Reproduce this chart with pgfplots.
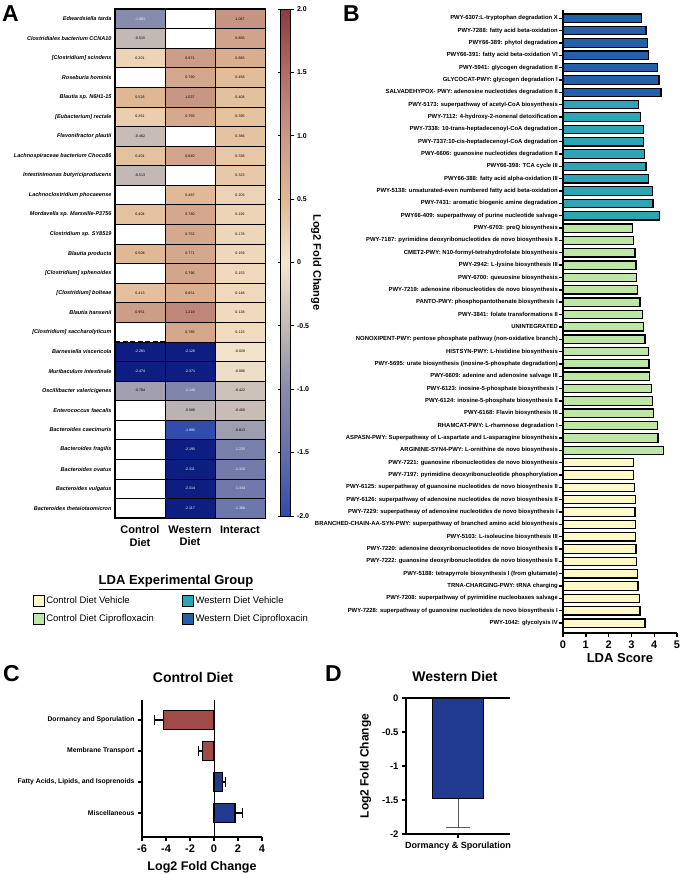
\documentclass[border=0pt]{standalone}
\usepackage{fontspec}
\setmainfont{Liberation Sans}
\usepackage{pgfplots}
\usepackage{pgfplotstable}
\pgfplotsset{compat=1.18}

\definecolor{cdv}{RGB}{253,250,200}
\definecolor{cdc}{RGB}{190,230,165}
\definecolor{wdv}{RGB}{45,165,180}
\definecolor{wdc}{RGB}{35,95,170}
\definecolor{cred}{RGB}{160,74,74}
\definecolor{cblue}{RGB}{32,58,143}
\definecolor{hnavy}{RGB}{14,30,128}

\pgfplotsset{
 colormap={cbar}{rgb255=(48,76,172) rgb255=(100,112,168) rgb255=(136,140,172) rgb255=(196,186,180) rgb255=(246,230,204) rgb255=(224,184,148) rgb255=(202,154,134) rgb255=(176,110,104) rgb255=(140,58,62)},
}

\pgfdeclareplotmark{cell}{\pgfpathrectangle{\pgfqpoint{-25pt}{-9.79pt}}{\pgfqpoint{50pt}{19.58pt}}\pgfusepathqfillstroke}

% heatmap cells: x = column (0 Control Diet, 1 Western Diet, 2 Interact), y = row (0 = top)
\pgfplotstableread{
x y v
2 0 1.067
0 1 -0.515
2 1 0.856
0 2 0.201
1 2 0.971
2 2 0.665
1 3 0.790
2 3 0.458
0 4 0.526
1 4 1.037
2 4 0.408
0 5 0.261
1 5 0.755
2 5 0.395
0 6 -0.462
2 6 0.386
0 7 0.401
1 7 0.840
2 7 0.336
0 8 -0.513
2 8 0.323
1 9 0.487
2 9 0.203
0 10 0.404
1 10 0.780
2 10 0.192
1 11 0.752
2 11 0.178
0 12 0.508
1 12 0.771
2 12 0.159
1 13 0.796
2 13 0.153
0 14 0.413
1 14 0.651
2 14 0.148
0 15 0.951
1 15 1.219
2 15 0.128
1 16 0.785
2 16 0.123
2 17 -0.028
2 18 -0.086
0 19 -0.784
2 19 -0.422
1 20 -0.586
2 20 -0.460
2 21 -0.813
}\tlight
\pgfplotstableread{
x y v
0 0 -1.001
1 19 -1.140
1 21 -1.995
2 22 -1.235
2 23 -1.320
2 24 -1.334
2 25 -1.368
}\tdark
\pgfplotstableread{
x y v
0 17 -2.281
1 17 -2.126
0 18 -2.474
1 18 -2.371
1 22 -2.195
1 23 -2.311
1 24 -2.314
1 25 -2.117
}\tnavy

\begin{document}
\begin{tikzpicture}
\useasboundingbox (0,0) rectangle (680pt,875pt);

% ---------------- Panel A heatmap ----------------
\begin{axis}[
 at={(115pt,357pt)}, anchor=south west, scale only axis, width=150pt, height=509pt,
 xmin=-0.5, xmax=2.5, ymin=-0.5, ymax=25.5, y dir=reverse,
 colormap name=cbar, point meta min=-2, point meta max=2,
 xtick={0,1,2}, xticklabels={Control\\Diet, Western\\Diet, Interact},
 xticklabel style={align=center, font=\fontsize{11}{12.5}\selectfont\bfseries, yshift=-4pt},
 ytick={0,...,25},
 yticklabels={{Edwardsiella tarda},{Clostridiales bacterium CCNA10},{[Clostridium] scindens},{Roseburia hominis},{Blautia sp. N6H1-15},{[Eubacterium] rectale},{Flavonifractor plautii},{Lachnospiraceae bacterium Choco86},{Intestinimonas butyriciproducens},{Lachnoclostridium phocaeense},{Mordavella sp. Marseille-P3756},{Clostridium sp. SY8519},{Blautia producta},{[Clostridium] sphenoides},{[Clostridium] bolteae},{Blautia hansenii},{[Clostridium] saccharolyticum},{Barnesiella viscericola},{Muribaculum intestinale},{Oscillibacter valericigenes},{Enterococcus faecalis},{Bacteroides caecimuris},{Bacteroides fragilis},{Bacteroides ovatus},{Bacteroides vulgatus},{Bacteroides thetaiotaomicron}},
 yticklabel style={font=\fontsize{5.5}{6}\selectfont\bfseries\itshape},
 major tick length=0pt,
 extra x ticks={0.5,1.5}, extra x tick labels={},
 extra y ticks={0.5,1.5,...,24.5}, extra y tick labels={},
 extra tick style={grid=major, major grid style={black, line width=0.6pt}},
 axis line style={line width=1.8pt},
 clip=false,
]
% coloured cells
\addplot[scatter, only marks, mark=cell, scatter src=explicit,
 scatter/use mapped color={draw=black, fill=mapped color}, mark options={line width=0.6pt}]
 table[meta=v] {\tlight};
\addplot[scatter, only marks, mark=cell, scatter src=explicit,
 scatter/use mapped color={draw=black, fill=mapped color}, mark options={line width=0.6pt}]
 table[meta=v] {\tdark};
% values below the colour range (< -2.0) are shown in dark navy
\addplot[only marks, mark=cell, mark options={draw=black, fill=hnavy, line width=0.6pt}]
 table {\tnavy};
% cell values as text
\addplot[only marks, mark=none, point meta=explicit,
 nodes near coords={\pgfmathprintnumber[fixed, fixed zerofill, precision=3, assume math mode=true]{\pgfplotspointmeta}},
 nodes near coords align={center},
 every node near coord/.append style={font=\fontsize{3.6}{4}\selectfont, text=black}]
 table[meta=v] {\tlight};
\addplot[only marks, mark=none, point meta=explicit,
 nodes near coords={\pgfmathprintnumber[fixed, fixed zerofill, precision=3, assume math mode=true]{\pgfplotspointmeta}},
 nodes near coords align={center},
 every node near coord/.append style={font=\fontsize{3.6}{4}\selectfont, text=white}]
 table[meta=v] {\tdark};
\addplot[only marks, mark=none, point meta=explicit,
 nodes near coords={\pgfmathprintnumber[fixed, fixed zerofill, precision=3, assume math mode=true]{\pgfplotspointmeta}},
 nodes near coords align={center},
 every node near coord/.append style={font=\fontsize{3.6}{4}\selectfont, text=white}]
 table[meta=v] {\tnavy};
\addplot[black, line width=2pt, dash pattern=on 5pt off 2.5pt] coordinates {(-0.5,16.5) (2.5,16.5)};
\end{axis}

% colorbar
\begin{axis}[
 at={(115pt,357pt)}, anchor=south west, scale only axis, width=150pt, height=509pt,
 hide axis, xmin=0, xmax=1, ymin=0, ymax=1,
 colormap name=cbar, point meta min=-2, point meta max=2,
 colorbar,
 colorbar style={at={(parent axis.north east)}, anchor=north west, xshift=7pt,
   scale only axis, width=10pt, height=507pt,
   ytick={-2,-1.5,-1,-0.5,0,0.5,1,1.5,2},
   yticklabels={-2.0,-1.5,-1.0,-0.5,0,0.5,1.0,1.5,2.0},
   yticklabel style={font=\fontsize{7}{8}\selectfont\bfseries},
   ylabel={Log2 Fold Change},
   ylabel style={rotate=180, font=\fontsize{11}{12}\selectfont\bfseries, yshift=-5pt},
   axis line style={line width=0.8pt},
   major tick length=3pt, tick align=outside, tick style={black, line width=0.8pt}},
]
\addplot[draw=none] coordinates {(0.5,0.5)};
\end{axis}

% ---------------- Panel B ----------------
\begin{axis}[
 at={(563pt,242pt)}, anchor=south west, scale only axis, width=114pt, height=623pt,
 xbar, bar shift=0pt, bar width=8.4pt,
 xmin=0, xmax=5, ymin=0.2, ymax=50.67,
 axis x line*=bottom, axis y line*=left, axis line style={line width=1.6pt},
 tick align=outside, major tick length=4pt, tick style={line width=1.4pt, black},
 xtick={0,1,2,3,4,5}, ytick={1,...,50},
 yticklabels={{PWY-1042: glycolysis IV},{PWY-7228: superpathway of guanosine nucleotides de novo biosynthesis I},{PWY-7208: superpathway of pyrimidine nucleobases salvage},{TRNA-CHARGING-PWY: tRNA charging},{PWY-5188: tetrapyrrole biosynthesis I (from glutamate)},{PWY-7222: guanosine deoxyribonucleotides de novo biosynthesis II},{PWY-7220: adenosine deoxyribonucleotides de novo biosynthesis II},{PWY-5103: L-isoleucine biosynthesis III},{BRANCHED-CHAIN-AA-SYN-PWY: superpathway of branched amino acid biosynthesis},{PWY-7229: superpathway of adenosine nucleotides de novo biosynthesis I},{PWY-6126: superpathway of adenosine nucleotides de novo biosynthesis II},{PWY-6125: superpathway of guanosine nucleotides de novo biosynthesis II},{PWY-7197: pyrimidine deoxyribonucleotide phosphorylation},{PWY-7221: guanosine ribonucleotides de novo biosynthesis},{ARGININE-SYN4-PWY: L-ornithine de novo biosynthesis},{ASPASN-PWY: Superpathway of L-aspartate and L-asparagine biosynthesis},{RHAMCAT-PWY: L-rhamnose degradation I},{PWY-6168: Flavin biosynthesis III},{PWY-6124: inosine-5-phosphate biosynthesis II},{PWY-6123: inosine-5-phosphate biosynthesis I},{PWY-6609: adenine and adenosine salvage III},{PWY-5695: urate biosynthesis (inosine-5-phosphate degradation)},{HISTSYN-PWY: L-histidine biosynthesis},{NONOXIPENT-PWY: pentose phosphate pathway (non-oxidative branch)},{UNINTEGRATED},{PWY-3841: folate transformations II},{PANTO-PWY: phosphopantothenate biosynthesis I},{PWY-7219: adenosine ribonucleotides de novo biosynthesis},{PWY-6700: queuosine biosynthesis},{PWY-2942: L-lysine biosynthesis III},{CMET2-PWY: N10-formyl-tetrahydrofolate biosynthesis},{PWY-7187: pyrimidine deoxyribonucleotides de novo biosynthesis II},{PWY-6703: preQ biosynthesis},{PWY66-409: superpathway of purine nucleotide salvage},{PWY-7431: aromatic biogenic amine degradation},{PWY-5138: unsaturated-even numbered fatty acid beta-oxidation},{PWY66-388: fatty acid alpha-oxidation III},{PWY66-398: TCA cycle III},{PWY-6606: guanosine nucleotides degradation II},{PWY-7337:10-cis-heptadecenoyl-CoA degradation},{PWY-7338: 10-trans-heptadecenoyl-CoA degradation},{PWY-7112: 4-hydroxy-2-nonenal detoxification},{PWY-5173: superpathway of acetyl-CoA biosynthesis},{SALVADEHYPOX- PWY: adenosine nucleotides degradation II},{GLYCOCAT-PWY: glycogen degradation I},{PWY-5941: glycogen degradation II},{PWY66-391: fatty acid beta-oxidation VI},{PWY66-389: phytol degradation},{PWY-7288: fatty acid beta-oxidation},{PWY-6307:L-tryptophan degradation X}},
 yticklabel style={font=\fontsize{5.9}{6}\selectfont\bfseries, inner sep=1pt},
 xticklabel style={font=\fontsize{11}{12}\selectfont\bfseries},
 xlabel={LDA Score}, xlabel style={font=\fontsize{13}{14}\selectfont\bfseries, yshift=2pt},
 /pgf/number format/assume math mode=true,
 legend columns=2,
 legend cell align=left,
 legend style={at={(-4.68,0.0658)}, anchor=north west, draw=none, fill=none,
   font=\fontsize{9.5}{11}\selectfont, row sep=6pt,
   /tikz/every even column/.append style={column sep=26pt}},
 legend image code/.code={\draw[#1, line width=0.6pt, draw=black] (0pt,-5.5pt) rectangle (11pt,5.5pt);},
]
\addplot[fill=cdv, draw=black, line width=1.2pt] coordinates {
(3.09,14) (3.09,13) (3.13,12) (3.17,11) (3.16,10) (3.19,9) (3.17,8) (3.20,7) (3.23,6) (3.25,5) (3.29,4) (3.36,3) (3.38,2) (3.60,1)};
\addlegendentry{Control Diet Vehicle}
\addplot[fill=wdv, draw=black, line width=1.2pt] coordinates {
(3.30,43) (3.41,42) (3.52,41) (3.52,40) (3.57,39) (3.64,38) (3.74,37) (3.92,36) (3.95,35) (4.23,34)};
\addlegendentry{Western Diet Vehicle}
\addplot[fill=cdc, draw=black, line width=1.2pt] coordinates {
(3.04,33) (3.10,32) (3.16,31) (3.20,30) (3.23,29) (3.27,28) (3.38,27) (3.49,26) (3.52,25) (3.60,24) (3.74,23) (3.77,22) (3.79,21) (3.89,20) (3.93,19) (3.96,18) (4.15,17) (4.17,16) (4.42,15)};
\addlegendentry{Control Diet Ciprofloxacin}
\addplot[fill=wdc, draw=black, line width=1.2pt] coordinates {
(3.45,50) (3.64,49) (3.71,48) (3.74,47) (4.14,46) (4.21,45) (4.30,44)};
\addlegendentry{Western Diet Ciprofloxacin}
\end{axis}

% ---------------- Panel C ----------------
\begin{axis}[
 at={(142pt,38pt)}, anchor=south west, scale only axis, width=120pt, height=137pt,
 xbar, bar shift=0pt, bar width=19pt,
 xmin=-6, xmax=4, ymin=0.226, ymax=4.645,
 axis x line*=bottom, axis y line*=left, axis line style={line width=1.4pt},
 tick align=outside, major tick length=4pt, tick style={line width=1.2pt, black},
 xtick={-6,-4,-2,0,2,4}, ytick={1,2,3,4},
 yticklabels={Miscellaneous,{Fatty Acids, Lipids, and Isoprenoids},Membrane Transport,Dormancy and Sporulation},
 yticklabel style={font=\fontsize{6.8}{7}\selectfont\bfseries},
 xticklabel style={font=\fontsize{11}{12}\selectfont\bfseries},
 xlabel={Log2 Fold Change}, xlabel style={font=\fontsize{12.5}{14}\selectfont\bfseries, yshift=2pt},
 extra x ticks={0}, extra x tick labels={},
 extra x tick style={grid=major, major grid style={black, line width=0.8pt}, major tick length=0pt},
 /pgf/number format/assume math mode=true,
]
\addplot[fill=cred, draw=black, line width=1.2pt,
 error bars/.cd, x dir=minus, x explicit,
 error bar style={line width=1.2pt, black}, error mark options={rotate=90, mark size=5pt, line width=1.2pt, black}]
 coordinates {(-4.22,4) +- (0.75,0) (-0.95,3) +- (0.35,0)};
\addplot[fill=cblue, draw=black, line width=1.2pt,
 error bars/.cd, x dir=plus, x explicit,
 error bar style={line width=1.2pt, black}, error mark options={rotate=90, mark size=5pt, line width=1.2pt, black}]
 coordinates {(0.70,2) +- (0.25,0) (1.75,1) +- (0.65,0)};
\end{axis}

% ---------------- Panel D ----------------
\begin{axis}[
 at={(406pt,41pt)}, anchor=south west, scale only axis, width=104pt, height=136pt,
 ybar, bar shift=0pt, bar width=51pt,
 xmin=-1, xmax=1, ymin=-2, ymax=0,
 axis x line*=bottom, axis y line*=left, axis line style={line width=1.4pt},
 tick align=outside, major tick length=4pt, tick style={line width=1.2pt, black},
 xtick={0}, xticklabels={Dormancy \& Sporulation},
 ytick={-2,-1.5,-1,-0.5,0}, yticklabels={-2,-1.5,-1,-0.5,0},
 xticklabel style={font=\fontsize{9}{10}\selectfont\bfseries},
 yticklabel style={font=\fontsize{9.5}{10}\selectfont\bfseries},
 ylabel={Log2 Fold Change}, ylabel style={font=\fontsize{12}{13}\selectfont\bfseries},
 extra y ticks={0}, extra y tick labels={},
 extra y tick style={grid=major, major grid style={black, line width=1.2pt}, major tick length=0pt},
]
\addplot[fill=cblue, draw=black, line width=1.2pt,
 error bars/.cd, y dir=minus, y explicit,
 error bar style={line width=0.9pt, gray!70!black}, error mark options={rotate=90, mark size=12pt, line width=0.9pt, gray!70!black}]
 coordinates {(0,-1.48) +- (0,0.42)};
\end{axis}

% ---------------- Texts ----------------
\node[anchor=base west, inner sep=0pt, font=\fontsize{23}{24}\selectfont\bfseries] at (2pt,853pt) {A};
\node[anchor=base west, inner sep=0pt, font=\fontsize{23}{24}\selectfont\bfseries] at (343pt,853pt) {B};
\node[anchor=base west, inner sep=0pt, font=\fontsize{23}{24}\selectfont\bfseries] at (3pt,193pt) {C};
\node[anchor=base west, inner sep=0pt, font=\fontsize{23}{24}\selectfont\bfseries] at (325pt,193pt) {D};
\node[anchor=base, inner sep=0pt, font=\fontsize{14}{15}\selectfont\bfseries] at (193pt,192pt) {Control Diet};
\node[anchor=base, inner sep=0pt, font=\fontsize{14}{15}\selectfont\bfseries] at (455pt,193pt) {Western Diet};
\node[anchor=base, inner sep=0pt, font=\fontsize{13}{14}\selectfont\bfseries] at (176pt,290pt) {\underline{LDA Experimental Group}};
\end{tikzpicture}
\end{document}
